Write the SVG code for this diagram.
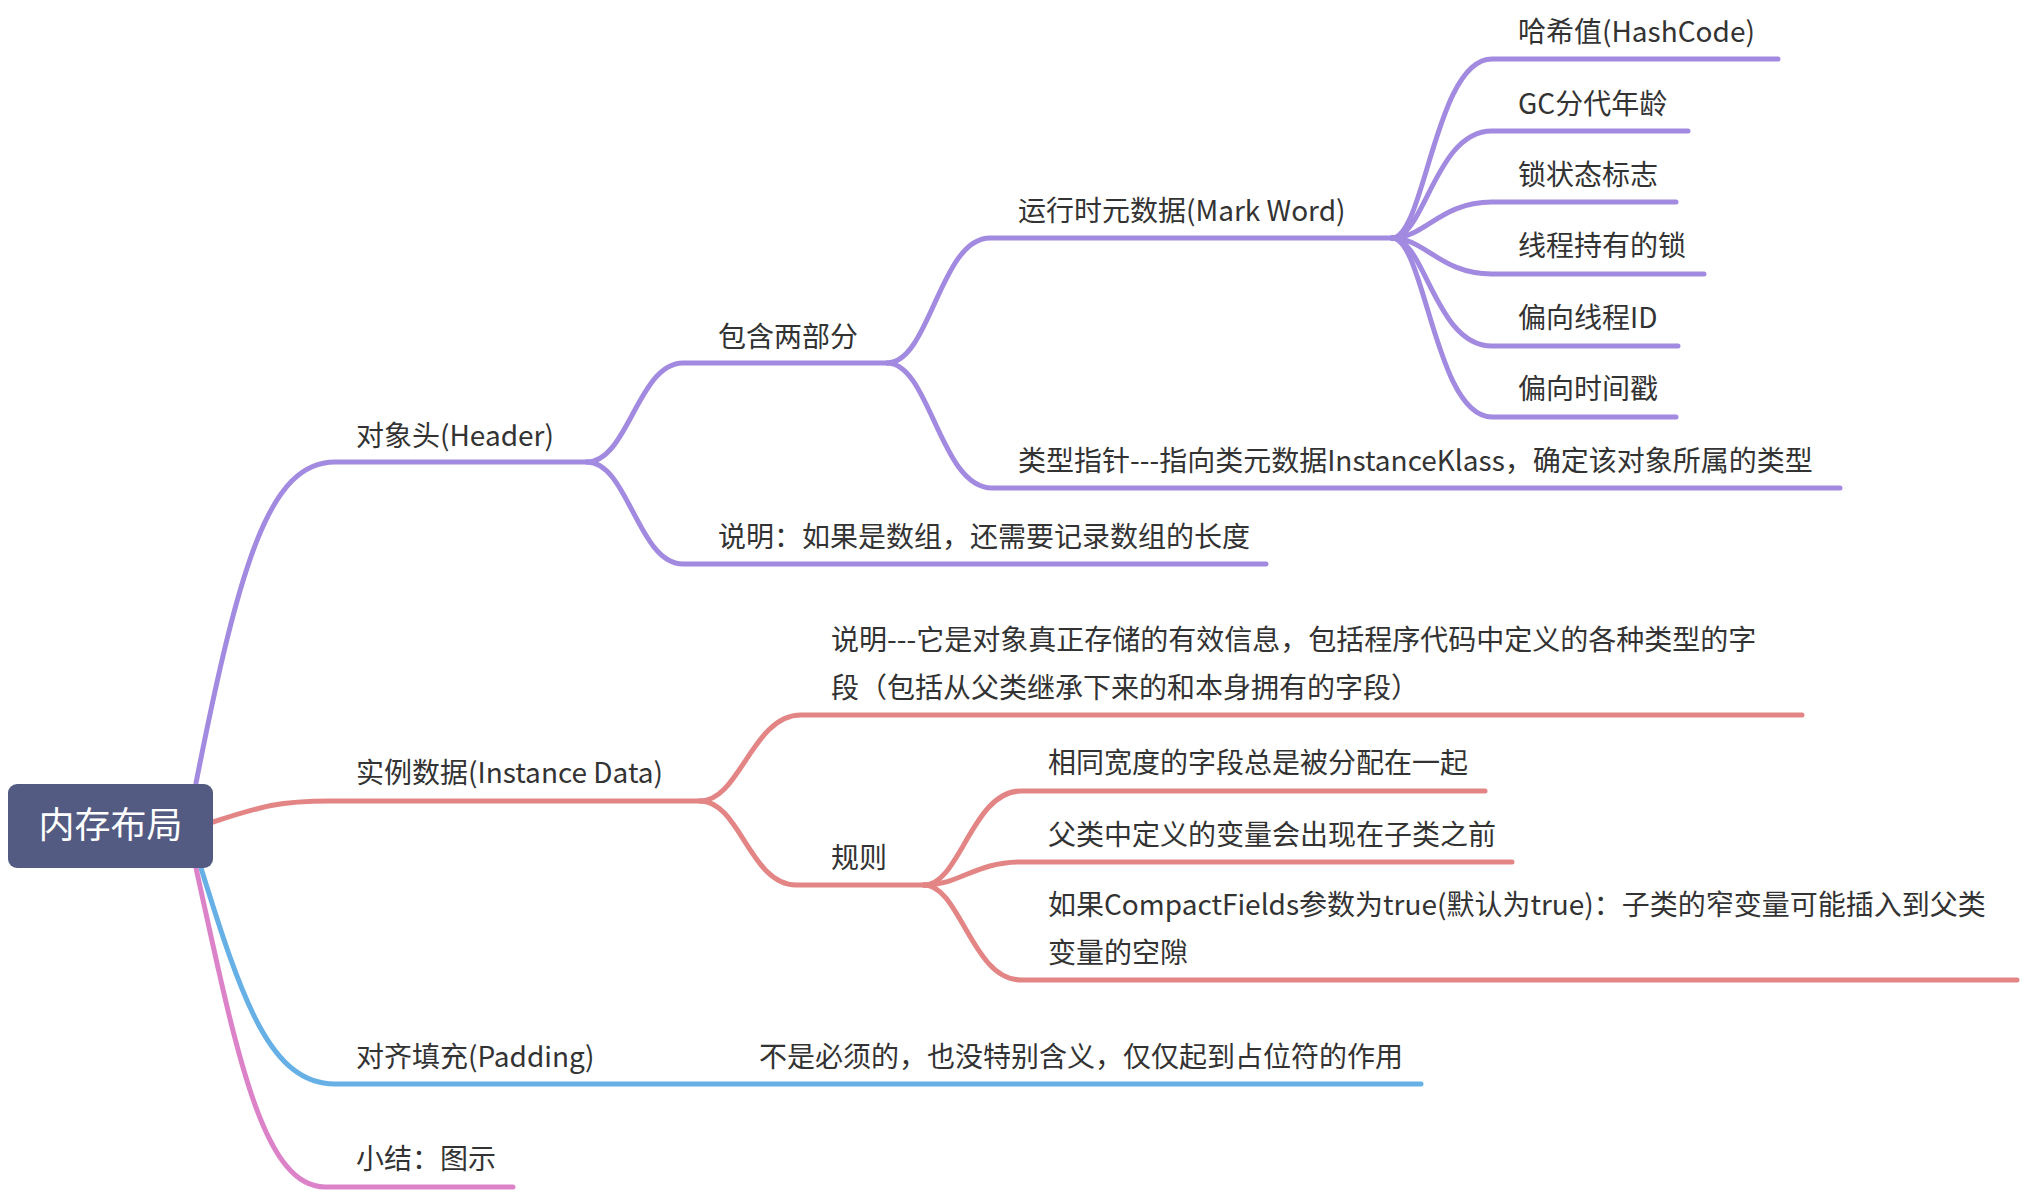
<svg xmlns="http://www.w3.org/2000/svg" width="2024" height="1192" viewBox="0 0 2024 1192">
<style>
.t{font-family:"Noto Sans CJK SC","Microsoft YaHei",sans-serif;font-size:28px;fill:#333333}
.root{font-family:"Noto Sans CJK SC",sans-serif;font-size:36px;fill:#ffffff}
.c{fill:none;stroke-width:5;stroke-linecap:round;stroke-linejoin:round}
.p{stroke:#a28ae0}
.r{stroke:#e38585}
.b{stroke:#66b0e6}
.k{stroke:#dc82c9}
</style>
<rect width="2024" height="1192" fill="#ffffff"/>
<g id="connectors">
<!-- purple branch -->
<path class="c p" d="M196,783 C240,560 270,462 335,462 L587,462"/>
<path class="c p" d="M587,462 C628,462 638,363 683,363 L887,363"/>
<path class="c p" d="M587,462 C628,462 638,564 683,564 L1266,564"/>
<path class="c p" d="M887,363 C930,363 940,238 990,238 L1392,238"/>
<path class="c p" d="M887,363 C930,363 940,488 992,488 L1840,488"/>
<path class="c p" d="M1392,238 C1425,238 1435,59 1492,59 L1778,59"/>
<path class="c p" d="M1392,238 C1425,238 1435,131 1492,131 L1688,131"/>
<path class="c p" d="M1392,238 C1425,238 1440,202 1492,202 L1676,202"/>
<path class="c p" d="M1392,238 C1425,238 1440,274 1492,274 L1704,274"/>
<path class="c p" d="M1392,238 C1425,238 1435,346 1492,346 L1678,346"/>
<path class="c p" d="M1392,238 C1425,238 1435,417 1492,417 L1676,417"/>
<!-- red branch -->
<path class="c r" d="M213,822 C262,806 280,801 330,801 L700,801"/>
<path class="c r" d="M700,801 C740,801 752,715 801,715 L1802,715"/>
<path class="c r" d="M700,801 C740,801 750,885 796,885 L924,885"/>
<path class="c r" d="M924,885 C960,885 972,791 1021,791 L1485,791"/>
<path class="c r" d="M924,885 C960,885 975,862 1021,862 L1512,862"/>
<path class="c r" d="M924,885 C960,885 972,980 1021,980 L2017,980"/>
<!-- blue branch -->
<path class="c b" d="M201,868 C242,1000 270,1084 335,1084 L620,1084 L1421,1084"/>
<!-- pink branch -->
<path class="c k" d="M196,868 C236,1050 262,1187 325,1187 L513,1187"/>
</g>
<g id="root">
<rect x="8" y="784" width="205" height="84" rx="9" fill="#545b82"/>
<text class="root" x="110.5" y="838" text-anchor="middle">内存布局</text>
</g>
<g id="header"><text class="t" x="356" y="446">对象头(Header)</text></g>
<g id="two-parts"><text class="t" x="718" y="347">包含两部分</text></g>
<g id="array-note"><text class="t" x="718" y="547">说明：如果是数组，还需要记录数组的长度</text></g>
<g id="mark-word"><text class="t" x="1018" y="221">运行时元数据(Mark Word)</text></g>
<g id="klass-pointer"><text class="t" x="1018" y="471">类型指针---指向类元数据InstanceKlass，确定该对象所属的类型</text></g>
<g id="hashcode"><text class="t" x="1518" y="42">哈希值(HashCode)</text></g>
<g id="gc-age"><text class="t" x="1518" y="114">GC分代年龄</text></g>
<g id="lock-flag"><text class="t" x="1518" y="185">锁状态标志</text></g>
<g id="thread-lock"><text class="t" x="1518" y="256">线程持有的锁</text></g>
<g id="bias-thread"><text class="t" x="1518" y="328">偏向线程ID</text></g>
<g id="bias-time"><text class="t" x="1518" y="399">偏向时间戳</text></g>
<g id="instance-data"><text class="t" x="356" y="783">实例数据(Instance Data)</text></g>
<g id="instance-note">
<text class="t" x="831" y="650">说明---它是对象真正存储的有效信息，包括程序代码中定义的各种类型的字</text>
<text class="t" x="831" y="698">段（包括从父类继承下来的和本身拥有的字段）</text>
</g>
<g id="rules"><text class="t" x="831" y="868">规则</text></g>
<g id="rule1"><text class="t" x="1048" y="773">相同宽度的字段总是被分配在一起</text></g>
<g id="rule2"><text class="t" x="1048" y="845">父类中定义的变量会出现在子类之前</text></g>
<g id="rule3">
<text class="t" x="1048" y="915">如果CompactFields参数为true(默认为true)：子类的窄变量可能插入到父类</text>
<text class="t" x="1048" y="963">变量的空隙</text>
</g>
<g id="padding"><text class="t" x="356" y="1067">对齐填充(Padding)</text></g>
<g id="padding-note"><text class="t" x="759" y="1067">不是必须的，也没特别含义，仅仅起到占位符的作用</text></g>
<g id="summary"><text class="t" x="356" y="1169">小结：图示</text></g>
</svg>
